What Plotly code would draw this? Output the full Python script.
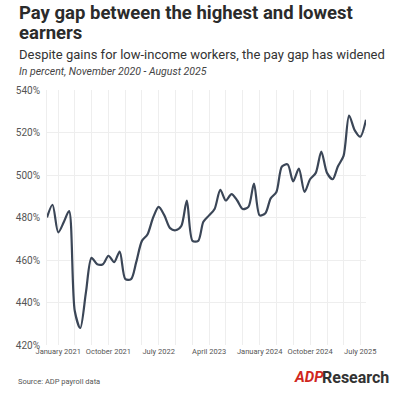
import pandas as pd
import plotly.graph_objects as go

months = pd.date_range("2020-11-01", "2025-08-01", freq="MS")
pay_gap = [480, 486,
           473, 478, 483, 436, 428, 445, 461, 458, 458, 462, 459, 464,
           451, 451, 459, 469, 472, 480, 485, 481, 475, 474, 476, 488,
           469, 469, 478, 481, 484, 493, 488, 491, 488, 484, 485, 496,
           481, 482, 489, 492, 504, 505, 497, 503, 492, 498, 501, 511,
           501, 498, 504, 509, 528, 521, 518, 526]
y_ticks = [420, 440, 460, 480, 500, 520, 540]
y_labels = [f"{v}%" for v in y_ticks]

W, H = 400, 393
L, R, T, B = 47, 366, 90, 345


def px(x):
    return (x - L) / (R - L)


def py(y):
    return (B - y) / (B - T)


fig = go.Figure()
fig.add_trace(go.Scatter(
    x=months, y=pay_gap, mode="lines",
    line=dict(color="#3b4657", width=2.2, shape="spline", smoothing=0.8),
    hoverinfo="x+y", showlegend=False))

font = "Roboto"
fig.update_layout(
    width=W, height=H,
    margin=dict(l=L, r=W - R, t=T, b=H - B, autoexpand=False),
    plot_bgcolor="white", paper_bgcolor="white",
    font=dict(family=font, color="#555"),
    xaxis=dict(
        range=[months[0], months[-1]],
        tickmode="linear", tick0="2021-01-01", dtick="M9",
        tickformat="%B %Y", ticks="", ticklabelstandoff=0, tickangle=0,
        tickfont=dict(size=7.5, color="#555"),
        showgrid=True, gridcolor="#eeeeee", gridwidth=1,
        minor=dict(tick0="2021-01-01", dtick="M3", showgrid=True,
                   gridcolor="#eeeeee", gridwidth=1),
        showline=False, zeroline=False, automargin=False),
    yaxis=dict(
        range=[420, 540], tickmode="array", tickvals=y_ticks, ticktext=y_labels,
        tickfont=dict(size=10, color="#555"), ticks="", ticklabelstandoff=4,
        showgrid=True, gridcolor="#eeeeee", gridwidth=1,
        zeroline=False, showline=True, linecolor="#eeeeee", linewidth=1,
        automargin=False),
)

ann = [
    dict(text="<b>Pay gap between the highest and lowest</b>", x=17, y=13,
         size=18.5, color="#2b2b2b"),
    dict(text="<b>earners</b>", x=17, y=33, size=18.5, color="#2b2b2b"),
    dict(text="Despite gains for low-income workers, the pay gap has widened",
         x=17, y=54, size=13, color="#333"),
    dict(text="<i>In percent, November 2020 - August 2025</i>", x=17, y=71,
         size=10.5, color="#444"),
    dict(text="Source: ADP payroll data", x=16, y=381, size=7.5, color="#555"),
    dict(text="<b><i>ADP</i></b>", x=292, y=377, size=15, color="#d0271d"),
    dict(text="<b>Research</b>", x=320, y=377, size=16, color="#333"),
]
for a in ann:
    fig.add_annotation(text=a["text"], xref="paper", yref="paper",
                       x=px(a["x"]), y=py(a["y"]), xanchor="left",
                       yanchor="middle", showarrow=False,
                       font=dict(family=font, size=a["size"], color=a["color"]))

fig.write_html("out.html", config={"displayModeBar": False},
               post_script="document.body.style.margin='0';"
                           "document.body.style.padding='0';")
